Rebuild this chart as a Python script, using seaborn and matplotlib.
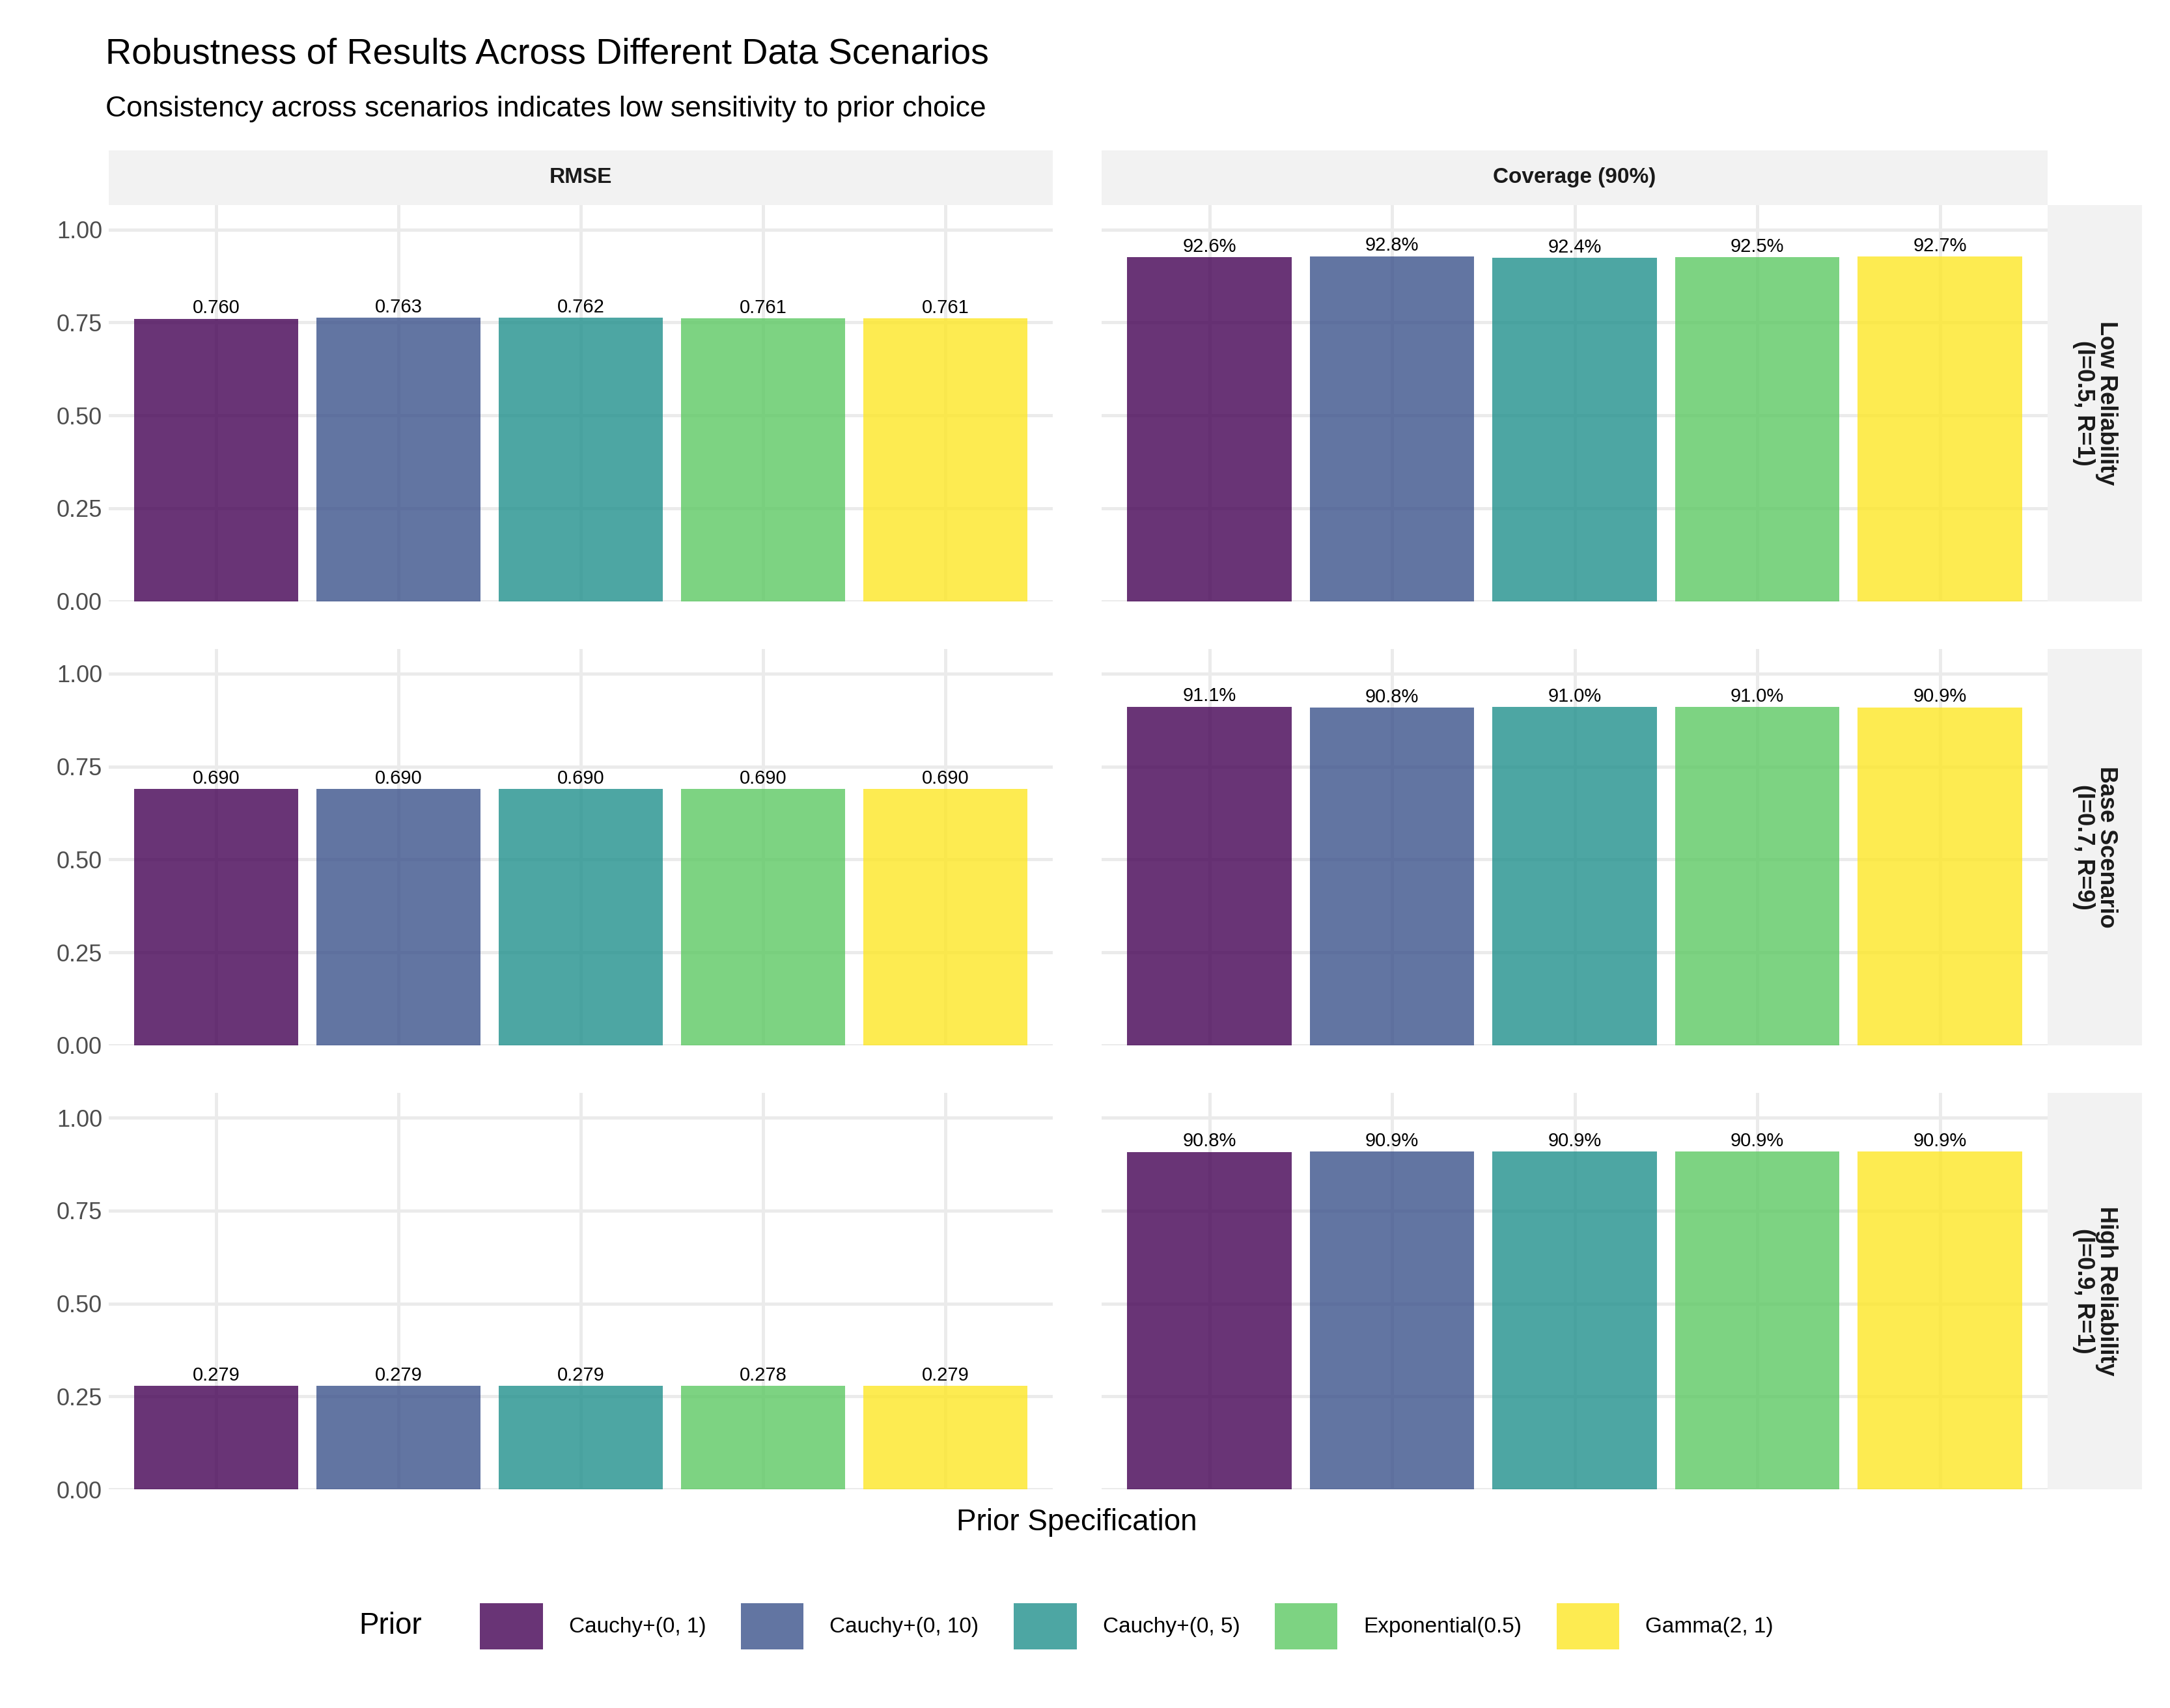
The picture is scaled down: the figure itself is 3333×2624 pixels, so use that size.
import matplotlib
matplotlib.use("Agg")
import matplotlib.pyplot as plt
import matplotlib.patches as mpatches
import seaborn as sns
import pandas as pd

plt.rcParams["font.family"] = "Liberation Sans"

priors = ["Cauchy+(0, 1)", "Cauchy+(0, 10)", "Cauchy+(0, 5)", "Exponential(0.5)", "Gamma(2, 1)"]
scenarios = ["Low Reliability\n(I=0.5, R=1)", "Base Scenario\n(I=0.7, R=9)", "High Reliability\n(I=0.9, R=1)"]
metrics = ["RMSE", "Coverage (90%)"]
rmse_low = [0.760, 0.763, 0.762, 0.761, 0.761]
rmse_base = [0.690, 0.690, 0.690, 0.690, 0.690]
rmse_high = [0.279, 0.279, 0.279, 0.278, 0.279]
cov_low = [0.926, 0.928, 0.924, 0.925, 0.927]
cov_base = [0.911, 0.908, 0.910, 0.910, 0.909]
cov_high = [0.908, 0.909, 0.909, 0.909, 0.909]
colors = ["#440154", "#3B528B", "#21908C", "#5DC863", "#FDE725"]
y_ticks = [0.0, 0.25, 0.5, 0.75, 1.0]

vals = {(0, 0): rmse_low, (1, 0): rmse_base, (2, 0): rmse_high,
        (0, 1): cov_low, (1, 1): cov_base, (2, 1): cov_high}

W, H = 1560, 1250
fig = plt.figure(figsize=(16.665, 13.12), dpi=200)
fig.patch.set_facecolor("white")
cols_x = [(78, 757), (792, 1472)]
rows_y = [(150, 440), (475, 765), (800, 1090)]
pal = dict(zip(priors, colors))

def fr(x0, y0, x1, y1):
    return [x0 / W, 1 - y1 / H, (x1 - x0) / W, (y1 - y0) / H]

for r in range(3):
    for c in range(2):
        x0, x1 = cols_x[c]; y0, y1 = rows_y[r]
        ax = fig.add_axes(fr(x0, y0, x1, y1))
        df = pd.DataFrame({"prior": priors, "value": vals[(r, c)]})
        sns.barplot(data=df, x="prior", y="value", hue="prior", order=priors,
                    hue_order=priors, palette=pal, alpha=0.8, width=0.9, saturation=1,
                    legend=False, ax=ax, zorder=3)
        ax.set_xlim(-0.59, 4.59)
        ax.set_ylim(0, 1.066)
        ax.set_yticks(y_ticks)
        ax.set_xlabel(""); ax.set_ylabel("")
        ax.grid(True, color="#EBEBEB", linewidth=1.8, zorder=0)
        ax.set_axisbelow(True)
        for s in ax.spines.values():
            s.set_visible(False)
        ax.tick_params(length=0, labelsize=13, colors="#4D4D4D")
        ax.set_xticklabels([])
        if c == 0:
            ax.set_yticklabels([f"{t:.2f}" for t in y_ticks])
        else:
            ax.set_yticklabels([])
        for i, v in enumerate(vals[(r, c)]):
            lab = f"{v:.3f}" if c == 0 else f"{v*100:.1f}%"
            ax.text(i, v + 0.004, lab, ha="center", va="bottom", fontsize=10.5, zorder=4)
        if r == 0:
            sax = fig.add_axes(fr(x0, 110, x1, 150))
            sax.set_facecolor("#F2F2F2"); sax.set_xticks([]); sax.set_yticks([])
            for s in sax.spines.values(): s.set_visible(False)
            sax.text(0.5, 0.5, metrics[c], ha="center", va="center", fontsize=12, fontweight="bold", color="#1A1A1A")
        if c == 1:
            sax = fig.add_axes(fr(1472, y0, 1540, y1))
            sax.set_facecolor("#F2F2F2"); sax.set_xticks([]); sax.set_yticks([])
            for s in sax.spines.values(): s.set_visible(False)
            sax.text(0.5, 0.5, scenarios[r], ha="center", va="center", rotation=-90,
                     fontsize=13, fontweight="bold", color="#1A1A1A", linespacing=1.0)

fig.text(76 / W, 1 - 40 / H, "Robustness of Results Across Different Data Scenarios", fontsize=20, va="center")
fig.text(76 / W, 1 - 80 / H, "Consistency across scenarios indicates low sensitivity to prior choice", fontsize=16, va="center")
fig.text(774 / W, 1 - 1114 / H, "Prior Specification", fontsize=16.5, ha="center", va="center")
fig.text(258 / W, 1 - 1190 / H, "Prior", fontsize=16.5, va="center")
handles = [mpatches.Patch(facecolor=col, alpha=0.8, label=p) for p, col in zip(priors, colors)]
fig.legend(handles=handles, loc="center", bbox_to_anchor=(810 / W, 1 - 1190 / H), ncol=5,
           frameon=False, fontsize=12, handlelength=2.9, handleheight=2.9, columnspacing=1.6,
           handletextpad=1.2)
fig.savefig("out.png", dpi=200, facecolor="white")
